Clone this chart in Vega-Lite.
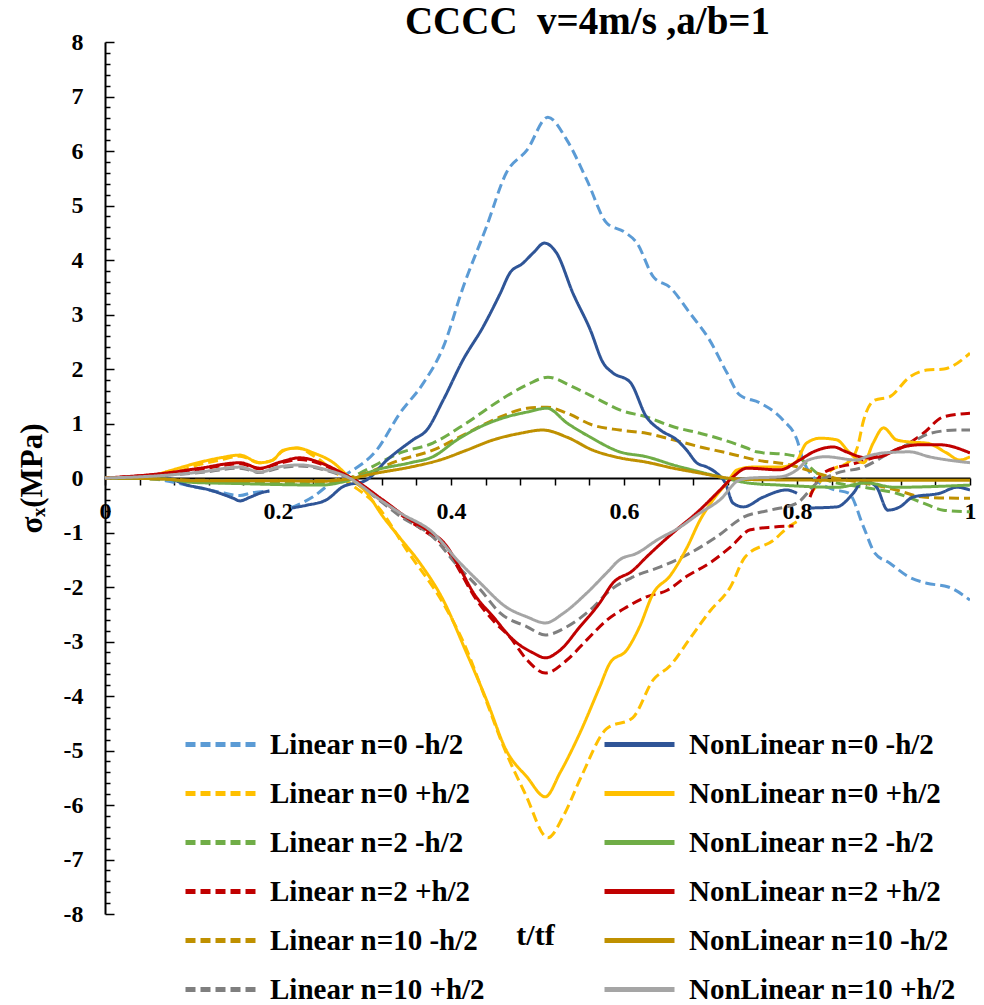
{
  "$schema": "https://vega.github.io/schema/vega-lite/v6.json",
  "width": 865,
  "height": 872,
  "autosize": "none",
  "padding": {"left": 105, "top": 42, "right": 14, "bottom": 91},
  "title": {
    "text": "CCCC\u00a0 v=4m/s ,a/b=1",
    "font": "Liberation Serif",
    "fontSize": 39,
    "fontWeight": "bold",
    "color": "black",
    "anchor": "middle",
    "dx": 50,
    "offset": -12
  },
  "config": {
    "view": {"stroke": null},
    "font": "Liberation Serif",
    "axis": {
      "grid": false,
      "domainColor": "black",
      "domainWidth": 2,
      "tickColor": "black",
      "tickWidth": 1.5,
      "labelFont": "Liberation Serif",
      "labelFontSize": 24,
      "labelFontWeight": "bold",
      "labelColor": "black",
      "titleFont": "Liberation Serif",
      "titleFontWeight": "bold",
      "titleColor": "black"
    }
  },
  "data": {
    "values": [
      {"s": "Linear n=0 -h/2", "p": 1, "t": 0, "v": 0},
      {"s": "Linear n=0 -h/2", "p": 1, "t": 0.04, "v": 0},
      {"s": "Linear n=0 -h/2", "p": 1, "t": 0.07, "v": -0.05},
      {"s": "Linear n=0 -h/2", "p": 1, "t": 0.1, "v": -0.15},
      {"s": "Linear n=0 -h/2", "p": 1, "t": 0.13, "v": -0.25},
      {"s": "Linear n=0 -h/2", "p": 1, "t": 0.156, "v": -0.32},
      {"s": "Linear n=0 -h/2", "p": 1, "t": 0.17, "v": -0.27},
      {"s": "Linear n=0 -h/2", "p": 1, "t": 0.19, "v": -0.24},
      {"s": "Linear n=0 -h/2", "p": 2, "t": 0.215, "v": -0.55},
      {"s": "Linear n=0 -h/2", "p": 2, "t": 0.24, "v": -0.35},
      {"s": "Linear n=0 -h/2", "p": 2, "t": 0.265, "v": -0.05},
      {"s": "Linear n=0 -h/2", "p": 2, "t": 0.283, "v": 0.11},
      {"s": "Linear n=0 -h/2", "p": 2, "t": 0.314, "v": 0.51},
      {"s": "Linear n=0 -h/2", "p": 2, "t": 0.341, "v": 1.19},
      {"s": "Linear n=0 -h/2", "p": 2, "t": 0.368, "v": 1.74},
      {"s": "Linear n=0 -h/2", "p": 2, "t": 0.391, "v": 2.4},
      {"s": "Linear n=0 -h/2", "p": 2, "t": 0.414, "v": 3.5},
      {"s": "Linear n=0 -h/2", "p": 2, "t": 0.441, "v": 4.61},
      {"s": "Linear n=0 -h/2", "p": 2, "t": 0.464, "v": 5.6},
      {"s": "Linear n=0 -h/2", "p": 2, "t": 0.488, "v": 6.02},
      {"s": "Linear n=0 -h/2", "p": 2, "t": 0.512, "v": 6.62},
      {"s": "Linear n=0 -h/2", "p": 2, "t": 0.534, "v": 6.2},
      {"s": "Linear n=0 -h/2", "p": 2, "t": 0.557, "v": 5.47},
      {"s": "Linear n=0 -h/2", "p": 2, "t": 0.58, "v": 4.68},
      {"s": "Linear n=0 -h/2", "p": 2, "t": 0.601, "v": 4.51},
      {"s": "Linear n=0 -h/2", "p": 2, "t": 0.615, "v": 4.31},
      {"s": "Linear n=0 -h/2", "p": 2, "t": 0.634, "v": 3.69},
      {"s": "Linear n=0 -h/2", "p": 2, "t": 0.653, "v": 3.5},
      {"s": "Linear n=0 -h/2", "p": 2, "t": 0.676, "v": 3.03},
      {"s": "Linear n=0 -h/2", "p": 2, "t": 0.699, "v": 2.53},
      {"s": "Linear n=0 -h/2", "p": 2, "t": 0.719, "v": 1.93},
      {"s": "Linear n=0 -h/2", "p": 2, "t": 0.734, "v": 1.52},
      {"s": "Linear n=0 -h/2", "p": 2, "t": 0.757, "v": 1.38},
      {"s": "Linear n=0 -h/2", "p": 2, "t": 0.784, "v": 1.06},
      {"s": "Linear n=0 -h/2", "p": 2, "t": 0.8, "v": 0.7},
      {"s": "Linear n=0 -h/2", "p": 2, "t": 0.807, "v": 0.33},
      {"s": "Linear n=0 -h/2", "p": 2, "t": 0.82, "v": 0.0},
      {"s": "Linear n=0 -h/2", "p": 2, "t": 0.84, "v": -0.2},
      {"s": "Linear n=0 -h/2", "p": 2, "t": 0.86, "v": -0.28},
      {"s": "Linear n=0 -h/2", "p": 2, "t": 0.877, "v": -0.9},
      {"s": "Linear n=0 -h/2", "p": 2, "t": 0.89, "v": -1.38},
      {"s": "Linear n=0 -h/2", "p": 2, "t": 0.907, "v": -1.56},
      {"s": "Linear n=0 -h/2", "p": 2, "t": 0.93, "v": -1.82},
      {"s": "Linear n=0 -h/2", "p": 2, "t": 0.95, "v": -1.93},
      {"s": "Linear n=0 -h/2", "p": 2, "t": 0.975, "v": -2.0},
      {"s": "Linear n=0 -h/2", "p": 2, "t": 1, "v": -2.24},

      {"s": "Linear n=0 +h/2", "p": 1, "t": 0, "v": 0},
      {"s": "Linear n=0 +h/2", "p": 1, "t": 0.05, "v": 0.02},
      {"s": "Linear n=0 +h/2", "p": 1, "t": 0.08, "v": 0.1},
      {"s": "Linear n=0 +h/2", "p": 1, "t": 0.11, "v": 0.25},
      {"s": "Linear n=0 +h/2", "p": 1, "t": 0.133, "v": 0.33},
      {"s": "Linear n=0 +h/2", "p": 1, "t": 0.156, "v": 0.4},
      {"s": "Linear n=0 +h/2", "p": 1, "t": 0.179, "v": 0.28},
      {"s": "Linear n=0 +h/2", "p": 1, "t": 0.194, "v": 0.33},
      {"s": "Linear n=0 +h/2", "p": 1, "t": 0.206, "v": 0.5},
      {"s": "Linear n=0 +h/2", "p": 1, "t": 0.222, "v": 0.55},
      {"s": "Linear n=0 +h/2", "p": 1, "t": 0.24, "v": 0.42},
      {"s": "Linear n=0 +h/2", "p": 1, "t": 0.265, "v": 0.12},
      {"s": "Linear n=0 +h/2", "p": 1, "t": 0.283, "v": -0.1},
      {"s": "Linear n=0 +h/2", "p": 1, "t": 0.314, "v": -0.5},
      {"s": "Linear n=0 +h/2", "p": 1, "t": 0.35, "v": -1.35},
      {"s": "Linear n=0 +h/2", "p": 1, "t": 0.391, "v": -2.3},
      {"s": "Linear n=0 +h/2", "p": 1, "t": 0.414, "v": -3.0},
      {"s": "Linear n=0 +h/2", "p": 1, "t": 0.441, "v": -4.1},
      {"s": "Linear n=0 +h/2", "p": 1, "t": 0.46, "v": -4.9},
      {"s": "Linear n=0 +h/2", "p": 1, "t": 0.486, "v": -5.8},
      {"s": "Linear n=0 +h/2", "p": 1, "t": 0.512, "v": -6.6},
      {"s": "Linear n=0 +h/2", "p": 1, "t": 0.53, "v": -6.2},
      {"s": "Linear n=0 +h/2", "p": 1, "t": 0.55, "v": -5.5},
      {"s": "Linear n=0 +h/2", "p": 1, "t": 0.58, "v": -4.6},
      {"s": "Linear n=0 +h/2", "p": 1, "t": 0.61, "v": -4.4},
      {"s": "Linear n=0 +h/2", "p": 1, "t": 0.634, "v": -3.7},
      {"s": "Linear n=0 +h/2", "p": 1, "t": 0.653, "v": -3.45},
      {"s": "Linear n=0 +h/2", "p": 1, "t": 0.676, "v": -2.95},
      {"s": "Linear n=0 +h/2", "p": 1, "t": 0.699, "v": -2.45},
      {"s": "Linear n=0 +h/2", "p": 1, "t": 0.723, "v": -2.0},
      {"s": "Linear n=0 +h/2", "p": 1, "t": 0.74, "v": -1.45},
      {"s": "Linear n=0 +h/2", "p": 1, "t": 0.773, "v": -1.14},
      {"s": "Linear n=0 +h/2", "p": 1, "t": 0.79, "v": -0.9},
      {"s": "Linear n=0 +h/2", "p": 1, "t": 0.8, "v": -0.8},
      {"s": "Linear n=0 +h/2", "p": 2, "t": 0.815, "v": -0.3},
      {"s": "Linear n=0 +h/2", "p": 2, "t": 0.84, "v": 0.15},
      {"s": "Linear n=0 +h/2", "p": 2, "t": 0.86, "v": 0.3},
      {"s": "Linear n=0 +h/2", "p": 2, "t": 0.87, "v": 0.57},
      {"s": "Linear n=0 +h/2", "p": 2, "t": 0.877, "v": 1.06},
      {"s": "Linear n=0 +h/2", "p": 2, "t": 0.89, "v": 1.43},
      {"s": "Linear n=0 +h/2", "p": 2, "t": 0.907, "v": 1.49},
      {"s": "Linear n=0 +h/2", "p": 2, "t": 0.93, "v": 1.85},
      {"s": "Linear n=0 +h/2", "p": 2, "t": 0.95, "v": 1.98},
      {"s": "Linear n=0 +h/2", "p": 2, "t": 0.97, "v": 2.0},
      {"s": "Linear n=0 +h/2", "p": 2, "t": 1, "v": 2.29},

      {"s": "Linear n=2 -h/2", "p": 1, "t": 0, "v": 0},
      {"s": "Linear n=2 -h/2", "p": 1, "t": 0.07, "v": -0.02},
      {"s": "Linear n=2 -h/2", "p": 1, "t": 0.1, "v": -0.07},
      {"s": "Linear n=2 -h/2", "p": 1, "t": 0.15, "v": -0.09},
      {"s": "Linear n=2 -h/2", "p": 1, "t": 0.2, "v": -0.1},
      {"s": "Linear n=2 -h/2", "p": 1, "t": 0.25, "v": -0.1},
      {"s": "Linear n=2 -h/2", "p": 1, "t": 0.28, "v": -0.02},
      {"s": "Linear n=2 -h/2", "p": 1, "t": 0.302, "v": 0.15},
      {"s": "Linear n=2 -h/2", "p": 1, "t": 0.341, "v": 0.46},
      {"s": "Linear n=2 -h/2", "p": 1, "t": 0.379, "v": 0.64},
      {"s": "Linear n=2 -h/2", "p": 1, "t": 0.418, "v": 1.01},
      {"s": "Linear n=2 -h/2", "p": 1, "t": 0.457, "v": 1.43},
      {"s": "Linear n=2 -h/2", "p": 1, "t": 0.488, "v": 1.71},
      {"s": "Linear n=2 -h/2", "p": 1, "t": 0.512, "v": 1.85},
      {"s": "Linear n=2 -h/2", "p": 1, "t": 0.541, "v": 1.67},
      {"s": "Linear n=2 -h/2", "p": 1, "t": 0.572, "v": 1.43},
      {"s": "Linear n=2 -h/2", "p": 1, "t": 0.595, "v": 1.25},
      {"s": "Linear n=2 -h/2", "p": 1, "t": 0.626, "v": 1.12},
      {"s": "Linear n=2 -h/2", "p": 1, "t": 0.657, "v": 0.94},
      {"s": "Linear n=2 -h/2", "p": 1, "t": 0.688, "v": 0.82},
      {"s": "Linear n=2 -h/2", "p": 1, "t": 0.715, "v": 0.7},
      {"s": "Linear n=2 -h/2", "p": 1, "t": 0.742, "v": 0.55},
      {"s": "Linear n=2 -h/2", "p": 1, "t": 0.753, "v": 0.48},
      {"s": "Linear n=2 -h/2", "p": 1, "t": 0.792, "v": 0.42},
      {"s": "Linear n=2 -h/2", "p": 1, "t": 0.8, "v": 0.39},
      {"s": "Linear n=2 -h/2", "p": 1, "t": 0.823, "v": 0.09},
      {"s": "Linear n=2 -h/2", "p": 1, "t": 0.835, "v": -0.04},
      {"s": "Linear n=2 -h/2", "p": 1, "t": 0.877, "v": -0.17},
      {"s": "Linear n=2 -h/2", "p": 1, "t": 0.915, "v": -0.28},
      {"s": "Linear n=2 -h/2", "p": 1, "t": 0.946, "v": -0.46},
      {"s": "Linear n=2 -h/2", "p": 1, "t": 0.969, "v": -0.59},
      {"s": "Linear n=2 -h/2", "p": 1, "t": 1, "v": -0.62},

      {"s": "Linear n=2 +h/2", "p": 1, "t": 0, "v": 0},
      {"s": "Linear n=2 +h/2", "p": 1, "t": 0.07, "v": 0.08},
      {"s": "Linear n=2 +h/2", "p": 1, "t": 0.11, "v": 0.16},
      {"s": "Linear n=2 +h/2", "p": 1, "t": 0.156, "v": 0.26},
      {"s": "Linear n=2 +h/2", "p": 1, "t": 0.179, "v": 0.17},
      {"s": "Linear n=2 +h/2", "p": 1, "t": 0.202, "v": 0.27},
      {"s": "Linear n=2 +h/2", "p": 1, "t": 0.225, "v": 0.34},
      {"s": "Linear n=2 +h/2", "p": 1, "t": 0.249, "v": 0.26},
      {"s": "Linear n=2 +h/2", "p": 1, "t": 0.272, "v": 0.1},
      {"s": "Linear n=2 +h/2", "p": 1, "t": 0.285, "v": 0.0},
      {"s": "Linear n=2 +h/2", "p": 1, "t": 0.321, "v": -0.42},
      {"s": "Linear n=2 +h/2", "p": 1, "t": 0.353, "v": -0.8},
      {"s": "Linear n=2 +h/2", "p": 1, "t": 0.372, "v": -1.0},
      {"s": "Linear n=2 +h/2", "p": 1, "t": 0.395, "v": -1.3},
      {"s": "Linear n=2 +h/2", "p": 1, "t": 0.41, "v": -1.7},
      {"s": "Linear n=2 +h/2", "p": 1, "t": 0.426, "v": -2.15},
      {"s": "Linear n=2 +h/2", "p": 1, "t": 0.449, "v": -2.62},
      {"s": "Linear n=2 +h/2", "p": 1, "t": 0.468, "v": -2.92},
      {"s": "Linear n=2 +h/2", "p": 1, "t": 0.488, "v": -3.34},
      {"s": "Linear n=2 +h/2", "p": 1, "t": 0.509, "v": -3.58},
      {"s": "Linear n=2 +h/2", "p": 1, "t": 0.534, "v": -3.34},
      {"s": "Linear n=2 +h/2", "p": 1, "t": 0.557, "v": -2.97},
      {"s": "Linear n=2 +h/2", "p": 1, "t": 0.58, "v": -2.61},
      {"s": "Linear n=2 +h/2", "p": 1, "t": 0.603, "v": -2.37},
      {"s": "Linear n=2 +h/2", "p": 1, "t": 0.626, "v": -2.18},
      {"s": "Linear n=2 +h/2", "p": 1, "t": 0.65, "v": -2.06},
      {"s": "Linear n=2 +h/2", "p": 1, "t": 0.673, "v": -1.8},
      {"s": "Linear n=2 +h/2", "p": 1, "t": 0.699, "v": -1.56},
      {"s": "Linear n=2 +h/2", "p": 1, "t": 0.723, "v": -1.27},
      {"s": "Linear n=2 +h/2", "p": 1, "t": 0.746, "v": -0.95},
      {"s": "Linear n=2 +h/2", "p": 1, "t": 0.772, "v": -0.9},
      {"s": "Linear n=2 +h/2", "p": 1, "t": 0.796, "v": -0.88},
      {"s": "Linear n=2 +h/2", "p": 2, "t": 0.815, "v": -0.35},
      {"s": "Linear n=2 +h/2", "p": 2, "t": 0.83, "v": 0.09},
      {"s": "Linear n=2 +h/2", "p": 2, "t": 0.869, "v": 0.28},
      {"s": "Linear n=2 +h/2", "p": 2, "t": 0.892, "v": 0.39},
      {"s": "Linear n=2 +h/2", "p": 2, "t": 0.915, "v": 0.51},
      {"s": "Linear n=2 +h/2", "p": 2, "t": 0.946, "v": 0.82},
      {"s": "Linear n=2 +h/2", "p": 2, "t": 0.969, "v": 1.12},
      {"s": "Linear n=2 +h/2", "p": 2, "t": 1, "v": 1.19},

      {"s": "Linear n=10 -h/2", "p": 1, "t": 0, "v": 0},
      {"s": "Linear n=10 -h/2", "p": 1, "t": 0.07, "v": -0.02},
      {"s": "Linear n=10 -h/2", "p": 1, "t": 0.1, "v": -0.04},
      {"s": "Linear n=10 -h/2", "p": 1, "t": 0.2, "v": -0.05},
      {"s": "Linear n=10 -h/2", "p": 1, "t": 0.25, "v": -0.05},
      {"s": "Linear n=10 -h/2", "p": 1, "t": 0.28, "v": -0.01},
      {"s": "Linear n=10 -h/2", "p": 1, "t": 0.302, "v": 0.09},
      {"s": "Linear n=10 -h/2", "p": 1, "t": 0.341, "v": 0.33},
      {"s": "Linear n=10 -h/2", "p": 1, "t": 0.379, "v": 0.51},
      {"s": "Linear n=10 -h/2", "p": 1, "t": 0.418, "v": 0.82},
      {"s": "Linear n=10 -h/2", "p": 1, "t": 0.457, "v": 1.12},
      {"s": "Linear n=10 -h/2", "p": 1, "t": 0.488, "v": 1.28},
      {"s": "Linear n=10 -h/2", "p": 1, "t": 0.511, "v": 1.3},
      {"s": "Linear n=10 -h/2", "p": 1, "t": 0.534, "v": 1.19},
      {"s": "Linear n=10 -h/2", "p": 1, "t": 0.564, "v": 0.97},
      {"s": "Linear n=10 -h/2", "p": 1, "t": 0.595, "v": 0.88},
      {"s": "Linear n=10 -h/2", "p": 1, "t": 0.626, "v": 0.82},
      {"s": "Linear n=10 -h/2", "p": 1, "t": 0.657, "v": 0.7},
      {"s": "Linear n=10 -h/2", "p": 1, "t": 0.688, "v": 0.57},
      {"s": "Linear n=10 -h/2", "p": 1, "t": 0.719, "v": 0.46},
      {"s": "Linear n=10 -h/2", "p": 1, "t": 0.753, "v": 0.33},
      {"s": "Linear n=10 -h/2", "p": 1, "t": 0.792, "v": 0.24},
      {"s": "Linear n=10 -h/2", "p": 1, "t": 0.823, "v": 0.09},
      {"s": "Linear n=10 -h/2", "p": 1, "t": 0.843, "v": 0.0},
      {"s": "Linear n=10 -h/2", "p": 1, "t": 0.87, "v": -0.07},
      {"s": "Linear n=10 -h/2", "p": 1, "t": 0.915, "v": -0.22},
      {"s": "Linear n=10 -h/2", "p": 1, "t": 0.946, "v": -0.35},
      {"s": "Linear n=10 -h/2", "p": 1, "t": 0.985, "v": -0.37},
      {"s": "Linear n=10 -h/2", "p": 1, "t": 1, "v": -0.37},

      {"s": "Linear n=10 +h/2", "p": 1, "t": 0, "v": 0},
      {"s": "Linear n=10 +h/2", "p": 1, "t": 0.07, "v": 0.05},
      {"s": "Linear n=10 +h/2", "p": 1, "t": 0.11, "v": 0.1},
      {"s": "Linear n=10 +h/2", "p": 1, "t": 0.156, "v": 0.18},
      {"s": "Linear n=10 +h/2", "p": 1, "t": 0.179, "v": 0.1},
      {"s": "Linear n=10 +h/2", "p": 1, "t": 0.2, "v": 0.18},
      {"s": "Linear n=10 +h/2", "p": 1, "t": 0.225, "v": 0.22},
      {"s": "Linear n=10 +h/2", "p": 1, "t": 0.256, "v": 0.14},
      {"s": "Linear n=10 +h/2", "p": 1, "t": 0.28, "v": 0.0},
      {"s": "Linear n=10 +h/2", "p": 1, "t": 0.318, "v": -0.42},
      {"s": "Linear n=10 +h/2", "p": 1, "t": 0.341, "v": -0.7},
      {"s": "Linear n=10 +h/2", "p": 1, "t": 0.379, "v": -1.08},
      {"s": "Linear n=10 +h/2", "p": 1, "t": 0.407, "v": -1.6},
      {"s": "Linear n=10 +h/2", "p": 1, "t": 0.434, "v": -2.05},
      {"s": "Linear n=10 +h/2", "p": 1, "t": 0.457, "v": -2.48},
      {"s": "Linear n=10 +h/2", "p": 1, "t": 0.488, "v": -2.73},
      {"s": "Linear n=10 +h/2", "p": 1, "t": 0.509, "v": -2.88},
      {"s": "Linear n=10 +h/2", "p": 1, "t": 0.534, "v": -2.73},
      {"s": "Linear n=10 +h/2", "p": 1, "t": 0.561, "v": -2.42},
      {"s": "Linear n=10 +h/2", "p": 1, "t": 0.584, "v": -2.06},
      {"s": "Linear n=10 +h/2", "p": 1, "t": 0.61, "v": -1.82},
      {"s": "Linear n=10 +h/2", "p": 1, "t": 0.642, "v": -1.63},
      {"s": "Linear n=10 +h/2", "p": 1, "t": 0.661, "v": -1.5},
      {"s": "Linear n=10 +h/2", "p": 1, "t": 0.676, "v": -1.38},
      {"s": "Linear n=10 +h/2", "p": 1, "t": 0.707, "v": -1.08},
      {"s": "Linear n=10 +h/2", "p": 1, "t": 0.738, "v": -0.72},
      {"s": "Linear n=10 +h/2", "p": 1, "t": 0.769, "v": -0.59},
      {"s": "Linear n=10 +h/2", "p": 1, "t": 0.8, "v": -0.46},
      {"s": "Linear n=10 +h/2", "p": 1, "t": 0.823, "v": -0.09},
      {"s": "Linear n=10 +h/2", "p": 1, "t": 0.846, "v": 0.09},
      {"s": "Linear n=10 +h/2", "p": 1, "t": 0.877, "v": 0.2},
      {"s": "Linear n=10 +h/2", "p": 1, "t": 0.907, "v": 0.46},
      {"s": "Linear n=10 +h/2", "p": 1, "t": 0.931, "v": 0.64},
      {"s": "Linear n=10 +h/2", "p": 1, "t": 0.954, "v": 0.82},
      {"s": "Linear n=10 +h/2", "p": 1, "t": 0.985, "v": 0.88},
      {"s": "Linear n=10 +h/2", "p": 1, "t": 1, "v": 0.88},

      {"s": "NonLinear n=0 -h/2", "p": 1, "t": 0, "v": 0},
      {"s": "NonLinear n=0 -h/2", "p": 1, "t": 0.05, "v": 0},
      {"s": "NonLinear n=0 -h/2", "p": 1, "t": 0.07, "v": 0},
      {"s": "NonLinear n=0 -h/2", "p": 1, "t": 0.095, "v": -0.13},
      {"s": "NonLinear n=0 -h/2", "p": 1, "t": 0.121, "v": -0.22},
      {"s": "NonLinear n=0 -h/2", "p": 1, "t": 0.148, "v": -0.37},
      {"s": "NonLinear n=0 -h/2", "p": 1, "t": 0.156, "v": -0.42},
      {"s": "NonLinear n=0 -h/2", "p": 1, "t": 0.168, "v": -0.35},
      {"s": "NonLinear n=0 -h/2", "p": 1, "t": 0.183, "v": -0.26},
      {"s": "NonLinear n=0 -h/2", "p": 1, "t": 0.19, "v": -0.24},
      {"s": "NonLinear n=0 -h/2", "p": 2, "t": 0.216, "v": -0.55},
      {"s": "NonLinear n=0 -h/2", "p": 2, "t": 0.233, "v": -0.5},
      {"s": "NonLinear n=0 -h/2", "p": 2, "t": 0.256, "v": -0.4},
      {"s": "NonLinear n=0 -h/2", "p": 2, "t": 0.275, "v": -0.16},
      {"s": "NonLinear n=0 -h/2", "p": 2, "t": 0.302, "v": -0.04},
      {"s": "NonLinear n=0 -h/2", "p": 2, "t": 0.326, "v": 0.33},
      {"s": "NonLinear n=0 -h/2", "p": 2, "t": 0.356, "v": 0.7},
      {"s": "NonLinear n=0 -h/2", "p": 2, "t": 0.372, "v": 0.88},
      {"s": "NonLinear n=0 -h/2", "p": 2, "t": 0.391, "v": 1.43},
      {"s": "NonLinear n=0 -h/2", "p": 2, "t": 0.414, "v": 2.17},
      {"s": "NonLinear n=0 -h/2", "p": 2, "t": 0.437, "v": 2.77},
      {"s": "NonLinear n=0 -h/2", "p": 2, "t": 0.457, "v": 3.39},
      {"s": "NonLinear n=0 -h/2", "p": 2, "t": 0.468, "v": 3.76},
      {"s": "NonLinear n=0 -h/2", "p": 2, "t": 0.483, "v": 3.94},
      {"s": "NonLinear n=0 -h/2", "p": 2, "t": 0.495, "v": 4.13},
      {"s": "NonLinear n=0 -h/2", "p": 2, "t": 0.508, "v": 4.31},
      {"s": "NonLinear n=0 -h/2", "p": 2, "t": 0.522, "v": 4.13},
      {"s": "NonLinear n=0 -h/2", "p": 2, "t": 0.541, "v": 3.39},
      {"s": "NonLinear n=0 -h/2", "p": 2, "t": 0.561, "v": 2.72},
      {"s": "NonLinear n=0 -h/2", "p": 2, "t": 0.576, "v": 2.11},
      {"s": "NonLinear n=0 -h/2", "p": 2, "t": 0.587, "v": 1.93},
      {"s": "NonLinear n=0 -h/2", "p": 2, "t": 0.607, "v": 1.76},
      {"s": "NonLinear n=0 -h/2", "p": 2, "t": 0.626, "v": 1.12},
      {"s": "NonLinear n=0 -h/2", "p": 2, "t": 0.642, "v": 0.88},
      {"s": "NonLinear n=0 -h/2", "p": 2, "t": 0.661, "v": 0.7},
      {"s": "NonLinear n=0 -h/2", "p": 2, "t": 0.673, "v": 0.5},
      {"s": "NonLinear n=0 -h/2", "p": 2, "t": 0.684, "v": 0.28},
      {"s": "NonLinear n=0 -h/2", "p": 2, "t": 0.696, "v": 0.2},
      {"s": "NonLinear n=0 -h/2", "p": 2, "t": 0.707, "v": 0.09},
      {"s": "NonLinear n=0 -h/2", "p": 2, "t": 0.717, "v": -0.09},
      {"s": "NonLinear n=0 -h/2", "p": 2, "t": 0.726, "v": -0.46},
      {"s": "NonLinear n=0 -h/2", "p": 2, "t": 0.738, "v": -0.53},
      {"s": "NonLinear n=0 -h/2", "p": 2, "t": 0.761, "v": -0.35},
      {"s": "NonLinear n=0 -h/2", "p": 2, "t": 0.788, "v": -0.22},
      {"s": "NonLinear n=0 -h/2", "p": 2, "t": 0.8, "v": -0.28},
      {"s": "NonLinear n=0 -h/2", "p": 3, "t": 0.815, "v": -0.55},
      {"s": "NonLinear n=0 -h/2", "p": 3, "t": 0.846, "v": -0.53},
      {"s": "NonLinear n=0 -h/2", "p": 3, "t": 0.865, "v": -0.28},
      {"s": "NonLinear n=0 -h/2", "p": 3, "t": 0.877, "v": -0.04},
      {"s": "NonLinear n=0 -h/2", "p": 3, "t": 0.892, "v": -0.17},
      {"s": "NonLinear n=0 -h/2", "p": 3, "t": 0.905, "v": -0.59},
      {"s": "NonLinear n=0 -h/2", "p": 3, "t": 0.919, "v": -0.53},
      {"s": "NonLinear n=0 -h/2", "p": 3, "t": 0.934, "v": -0.35},
      {"s": "NonLinear n=0 -h/2", "p": 3, "t": 0.965, "v": -0.28},
      {"s": "NonLinear n=0 -h/2", "p": 3, "t": 0.985, "v": -0.17},
      {"s": "NonLinear n=0 -h/2", "p": 3, "t": 1, "v": -0.22},

      {"s": "NonLinear n=0 +h/2", "p": 1, "t": 0, "v": 0},
      {"s": "NonLinear n=0 +h/2", "p": 1, "t": 0.05, "v": 0.02},
      {"s": "NonLinear n=0 +h/2", "p": 1, "t": 0.07, "v": 0.11},
      {"s": "NonLinear n=0 +h/2", "p": 1, "t": 0.11, "v": 0.29},
      {"s": "NonLinear n=0 +h/2", "p": 1, "t": 0.133, "v": 0.37},
      {"s": "NonLinear n=0 +h/2", "p": 1, "t": 0.156, "v": 0.42},
      {"s": "NonLinear n=0 +h/2", "p": 1, "t": 0.179, "v": 0.28},
      {"s": "NonLinear n=0 +h/2", "p": 1, "t": 0.194, "v": 0.33},
      {"s": "NonLinear n=0 +h/2", "p": 1, "t": 0.206, "v": 0.51},
      {"s": "NonLinear n=0 +h/2", "p": 1, "t": 0.222, "v": 0.55},
      {"s": "NonLinear n=0 +h/2", "p": 1, "t": 0.241, "v": 0.46},
      {"s": "NonLinear n=0 +h/2", "p": 1, "t": 0.264, "v": 0.28},
      {"s": "NonLinear n=0 +h/2", "p": 1, "t": 0.28, "v": 0.05},
      {"s": "NonLinear n=0 +h/2", "p": 1, "t": 0.303, "v": -0.28},
      {"s": "NonLinear n=0 +h/2", "p": 1, "t": 0.321, "v": -0.7},
      {"s": "NonLinear n=0 +h/2", "p": 1, "t": 0.341, "v": -1.1},
      {"s": "NonLinear n=0 +h/2", "p": 1, "t": 0.364, "v": -1.56},
      {"s": "NonLinear n=0 +h/2", "p": 1, "t": 0.391, "v": -2.24},
      {"s": "NonLinear n=0 +h/2", "p": 1, "t": 0.418, "v": -3.21},
      {"s": "NonLinear n=0 +h/2", "p": 1, "t": 0.441, "v": -4.07},
      {"s": "NonLinear n=0 +h/2", "p": 1, "t": 0.464, "v": -5.0},
      {"s": "NonLinear n=0 +h/2", "p": 1, "t": 0.488, "v": -5.49},
      {"s": "NonLinear n=0 +h/2", "p": 1, "t": 0.509, "v": -5.85},
      {"s": "NonLinear n=0 +h/2", "p": 1, "t": 0.526, "v": -5.41},
      {"s": "NonLinear n=0 +h/2", "p": 1, "t": 0.549, "v": -4.68},
      {"s": "NonLinear n=0 +h/2", "p": 1, "t": 0.572, "v": -3.83},
      {"s": "NonLinear n=0 +h/2", "p": 1, "t": 0.584, "v": -3.39},
      {"s": "NonLinear n=0 +h/2", "p": 1, "t": 0.603, "v": -3.16},
      {"s": "NonLinear n=0 +h/2", "p": 1, "t": 0.618, "v": -2.73},
      {"s": "NonLinear n=0 +h/2", "p": 1, "t": 0.634, "v": -2.11},
      {"s": "NonLinear n=0 +h/2", "p": 1, "t": 0.653, "v": -1.8},
      {"s": "NonLinear n=0 +h/2", "p": 1, "t": 0.673, "v": -1.27},
      {"s": "NonLinear n=0 +h/2", "p": 1, "t": 0.688, "v": -0.77},
      {"s": "NonLinear n=0 +h/2", "p": 1, "t": 0.703, "v": -0.4},
      {"s": "NonLinear n=0 +h/2", "p": 1, "t": 0.719, "v": -0.09},
      {"s": "NonLinear n=0 +h/2", "p": 1, "t": 0.731, "v": 0.15},
      {"s": "NonLinear n=0 +h/2", "p": 1, "t": 0.749, "v": 0.2},
      {"s": "NonLinear n=0 +h/2", "p": 1, "t": 0.78, "v": 0.2},
      {"s": "NonLinear n=0 +h/2", "p": 1, "t": 0.798, "v": 0.28},
      {"s": "NonLinear n=0 +h/2", "p": 1, "t": 0.811, "v": 0.64},
      {"s": "NonLinear n=0 +h/2", "p": 1, "t": 0.827, "v": 0.73},
      {"s": "NonLinear n=0 +h/2", "p": 1, "t": 0.846, "v": 0.7},
      {"s": "NonLinear n=0 +h/2", "p": 1, "t": 0.861, "v": 0.46},
      {"s": "NonLinear n=0 +h/2", "p": 1, "t": 0.877, "v": 0.28},
      {"s": "NonLinear n=0 +h/2", "p": 1, "t": 0.888, "v": 0.64},
      {"s": "NonLinear n=0 +h/2", "p": 1, "t": 0.9, "v": 0.92},
      {"s": "NonLinear n=0 +h/2", "p": 1, "t": 0.915, "v": 0.7},
      {"s": "NonLinear n=0 +h/2", "p": 1, "t": 0.931, "v": 0.66},
      {"s": "NonLinear n=0 +h/2", "p": 1, "t": 0.95, "v": 0.64},
      {"s": "NonLinear n=0 +h/2", "p": 1, "t": 0.973, "v": 0.46},
      {"s": "NonLinear n=0 +h/2", "p": 1, "t": 0.988, "v": 0.33},
      {"s": "NonLinear n=0 +h/2", "p": 1, "t": 1, "v": 0.39},

      {"s": "NonLinear n=2 -h/2", "p": 1, "t": 0, "v": 0},
      {"s": "NonLinear n=2 -h/2", "p": 1, "t": 0.07, "v": -0.02},
      {"s": "NonLinear n=2 -h/2", "p": 1, "t": 0.1, "v": -0.08},
      {"s": "NonLinear n=2 -h/2", "p": 1, "t": 0.15, "v": -0.1},
      {"s": "NonLinear n=2 -h/2", "p": 1, "t": 0.2, "v": -0.12},
      {"s": "NonLinear n=2 -h/2", "p": 1, "t": 0.25, "v": -0.13},
      {"s": "NonLinear n=2 -h/2", "p": 1, "t": 0.28, "v": -0.05},
      {"s": "NonLinear n=2 -h/2", "p": 1, "t": 0.314, "v": 0.15},
      {"s": "NonLinear n=2 -h/2", "p": 1, "t": 0.353, "v": 0.28},
      {"s": "NonLinear n=2 -h/2", "p": 1, "t": 0.379, "v": 0.39},
      {"s": "NonLinear n=2 -h/2", "p": 1, "t": 0.407, "v": 0.7},
      {"s": "NonLinear n=2 -h/2", "p": 1, "t": 0.434, "v": 0.94},
      {"s": "NonLinear n=2 -h/2", "p": 1, "t": 0.464, "v": 1.12},
      {"s": "NonLinear n=2 -h/2", "p": 1, "t": 0.488, "v": 1.21},
      {"s": "NonLinear n=2 -h/2", "p": 1, "t": 0.511, "v": 1.28},
      {"s": "NonLinear n=2 -h/2", "p": 1, "t": 0.534, "v": 1.01},
      {"s": "NonLinear n=2 -h/2", "p": 1, "t": 0.561, "v": 0.75},
      {"s": "NonLinear n=2 -h/2", "p": 1, "t": 0.595, "v": 0.48},
      {"s": "NonLinear n=2 -h/2", "p": 1, "t": 0.626, "v": 0.39},
      {"s": "NonLinear n=2 -h/2", "p": 1, "t": 0.657, "v": 0.24},
      {"s": "NonLinear n=2 -h/2", "p": 1, "t": 0.688, "v": 0.11},
      {"s": "NonLinear n=2 -h/2", "p": 1, "t": 0.711, "v": 0.02},
      {"s": "NonLinear n=2 -h/2", "p": 1, "t": 0.743, "v": -0.09},
      {"s": "NonLinear n=2 -h/2", "p": 1, "t": 0.78, "v": -0.13},
      {"s": "NonLinear n=2 -h/2", "p": 1, "t": 0.847, "v": -0.17},
      {"s": "NonLinear n=2 -h/2", "p": 1, "t": 0.88, "v": -0.09},
      {"s": "NonLinear n=2 -h/2", "p": 1, "t": 0.913, "v": -0.17},
      {"s": "NonLinear n=2 -h/2", "p": 1, "t": 1, "v": -0.13},

      {"s": "NonLinear n=2 +h/2", "p": 1, "t": 0, "v": 0},
      {"s": "NonLinear n=2 +h/2", "p": 1, "t": 0.07, "v": 0.09},
      {"s": "NonLinear n=2 +h/2", "p": 1, "t": 0.11, "v": 0.18},
      {"s": "NonLinear n=2 +h/2", "p": 1, "t": 0.156, "v": 0.28},
      {"s": "NonLinear n=2 +h/2", "p": 1, "t": 0.179, "v": 0.18},
      {"s": "NonLinear n=2 +h/2", "p": 1, "t": 0.202, "v": 0.29},
      {"s": "NonLinear n=2 +h/2", "p": 1, "t": 0.225, "v": 0.37},
      {"s": "NonLinear n=2 +h/2", "p": 1, "t": 0.249, "v": 0.28},
      {"s": "NonLinear n=2 +h/2", "p": 1, "t": 0.272, "v": 0.11},
      {"s": "NonLinear n=2 +h/2", "p": 1, "t": 0.285, "v": 0.0},
      {"s": "NonLinear n=2 +h/2", "p": 1, "t": 0.321, "v": -0.4},
      {"s": "NonLinear n=2 +h/2", "p": 1, "t": 0.353, "v": -0.77},
      {"s": "NonLinear n=2 +h/2", "p": 1, "t": 0.372, "v": -0.95},
      {"s": "NonLinear n=2 +h/2", "p": 1, "t": 0.395, "v": -1.25},
      {"s": "NonLinear n=2 +h/2", "p": 1, "t": 0.41, "v": -1.65},
      {"s": "NonLinear n=2 +h/2", "p": 1, "t": 0.426, "v": -2.11},
      {"s": "NonLinear n=2 +h/2", "p": 1, "t": 0.449, "v": -2.55},
      {"s": "NonLinear n=2 +h/2", "p": 1, "t": 0.472, "v": -2.97},
      {"s": "NonLinear n=2 +h/2", "p": 1, "t": 0.495, "v": -3.21},
      {"s": "NonLinear n=2 +h/2", "p": 1, "t": 0.509, "v": -3.3},
      {"s": "NonLinear n=2 +h/2", "p": 1, "t": 0.526, "v": -3.16},
      {"s": "NonLinear n=2 +h/2", "p": 1, "t": 0.549, "v": -2.73},
      {"s": "NonLinear n=2 +h/2", "p": 1, "t": 0.572, "v": -2.29},
      {"s": "NonLinear n=2 +h/2", "p": 1, "t": 0.587, "v": -1.93},
      {"s": "NonLinear n=2 +h/2", "p": 1, "t": 0.61, "v": -1.7},
      {"s": "NonLinear n=2 +h/2", "p": 1, "t": 0.626, "v": -1.45},
      {"s": "NonLinear n=2 +h/2", "p": 1, "t": 0.657, "v": -1.0},
      {"s": "NonLinear n=2 +h/2", "p": 1, "t": 0.684, "v": -0.64},
      {"s": "NonLinear n=2 +h/2", "p": 1, "t": 0.711, "v": -0.22},
      {"s": "NonLinear n=2 +h/2", "p": 1, "t": 0.726, "v": 0.02},
      {"s": "NonLinear n=2 +h/2", "p": 1, "t": 0.742, "v": 0.18},
      {"s": "NonLinear n=2 +h/2", "p": 1, "t": 0.78, "v": 0.15},
      {"s": "NonLinear n=2 +h/2", "p": 1, "t": 0.803, "v": 0.33},
      {"s": "NonLinear n=2 +h/2", "p": 1, "t": 0.819, "v": 0.48},
      {"s": "NonLinear n=2 +h/2", "p": 1, "t": 0.842, "v": 0.57},
      {"s": "NonLinear n=2 +h/2", "p": 1, "t": 0.857, "v": 0.48},
      {"s": "NonLinear n=2 +h/2", "p": 1, "t": 0.88, "v": 0.37},
      {"s": "NonLinear n=2 +h/2", "p": 1, "t": 0.896, "v": 0.39},
      {"s": "NonLinear n=2 +h/2", "p": 1, "t": 0.919, "v": 0.55},
      {"s": "NonLinear n=2 +h/2", "p": 1, "t": 0.942, "v": 0.61},
      {"s": "NonLinear n=2 +h/2", "p": 1, "t": 0.965, "v": 0.61},
      {"s": "NonLinear n=2 +h/2", "p": 1, "t": 1, "v": 0.46},

      {"s": "NonLinear n=10 -h/2", "p": 1, "t": 0, "v": 0},
      {"s": "NonLinear n=10 -h/2", "p": 1, "t": 0.07, "v": -0.02},
      {"s": "NonLinear n=10 -h/2", "p": 1, "t": 0.1, "v": -0.05},
      {"s": "NonLinear n=10 -h/2", "p": 1, "t": 0.2, "v": -0.05},
      {"s": "NonLinear n=10 -h/2", "p": 1, "t": 0.25, "v": -0.06},
      {"s": "NonLinear n=10 -h/2", "p": 1, "t": 0.28, "v": -0.02},
      {"s": "NonLinear n=10 -h/2", "p": 1, "t": 0.314, "v": 0.09},
      {"s": "NonLinear n=10 -h/2", "p": 1, "t": 0.353, "v": 0.2},
      {"s": "NonLinear n=10 -h/2", "p": 1, "t": 0.387, "v": 0.33},
      {"s": "NonLinear n=10 -h/2", "p": 1, "t": 0.418, "v": 0.51},
      {"s": "NonLinear n=10 -h/2", "p": 1, "t": 0.449, "v": 0.7},
      {"s": "NonLinear n=10 -h/2", "p": 1, "t": 0.48, "v": 0.82},
      {"s": "NonLinear n=10 -h/2", "p": 1, "t": 0.506, "v": 0.88},
      {"s": "NonLinear n=10 -h/2", "p": 1, "t": 0.534, "v": 0.75},
      {"s": "NonLinear n=10 -h/2", "p": 1, "t": 0.564, "v": 0.51},
      {"s": "NonLinear n=10 -h/2", "p": 1, "t": 0.595, "v": 0.37},
      {"s": "NonLinear n=10 -h/2", "p": 1, "t": 0.626, "v": 0.29},
      {"s": "NonLinear n=10 -h/2", "p": 1, "t": 0.657, "v": 0.18},
      {"s": "NonLinear n=10 -h/2", "p": 1, "t": 0.688, "v": 0.09},
      {"s": "NonLinear n=10 -h/2", "p": 1, "t": 0.72, "v": 0.0},
      {"s": "NonLinear n=10 -h/2", "p": 1, "t": 0.75, "v": -0.03},
      {"s": "NonLinear n=10 -h/2", "p": 1, "t": 0.85, "v": -0.04},
      {"s": "NonLinear n=10 -h/2", "p": 1, "t": 0.95, "v": -0.04},
      {"s": "NonLinear n=10 -h/2", "p": 1, "t": 1, "v": -0.04},

      {"s": "NonLinear n=10 +h/2", "p": 1, "t": 0, "v": 0},
      {"s": "NonLinear n=10 +h/2", "p": 1, "t": 0.07, "v": 0.05},
      {"s": "NonLinear n=10 +h/2", "p": 1, "t": 0.11, "v": 0.11},
      {"s": "NonLinear n=10 +h/2", "p": 1, "t": 0.156, "v": 0.2},
      {"s": "NonLinear n=10 +h/2", "p": 1, "t": 0.179, "v": 0.11},
      {"s": "NonLinear n=10 +h/2", "p": 1, "t": 0.2, "v": 0.2},
      {"s": "NonLinear n=10 +h/2", "p": 1, "t": 0.225, "v": 0.24},
      {"s": "NonLinear n=10 +h/2", "p": 1, "t": 0.256, "v": 0.15},
      {"s": "NonLinear n=10 +h/2", "p": 1, "t": 0.28, "v": 0.02},
      {"s": "NonLinear n=10 +h/2", "p": 1, "t": 0.318, "v": -0.4},
      {"s": "NonLinear n=10 +h/2", "p": 1, "t": 0.341, "v": -0.64},
      {"s": "NonLinear n=10 +h/2", "p": 1, "t": 0.379, "v": -1.0},
      {"s": "NonLinear n=10 +h/2", "p": 1, "t": 0.407, "v": -1.5},
      {"s": "NonLinear n=10 +h/2", "p": 1, "t": 0.434, "v": -1.93},
      {"s": "NonLinear n=10 +h/2", "p": 1, "t": 0.464, "v": -2.37},
      {"s": "NonLinear n=10 +h/2", "p": 1, "t": 0.488, "v": -2.55},
      {"s": "NonLinear n=10 +h/2", "p": 1, "t": 0.509, "v": -2.66},
      {"s": "NonLinear n=10 +h/2", "p": 1, "t": 0.53, "v": -2.48},
      {"s": "NonLinear n=10 +h/2", "p": 1, "t": 0.557, "v": -2.11},
      {"s": "NonLinear n=10 +h/2", "p": 1, "t": 0.58, "v": -1.74},
      {"s": "NonLinear n=10 +h/2", "p": 1, "t": 0.595, "v": -1.5},
      {"s": "NonLinear n=10 +h/2", "p": 1, "t": 0.615, "v": -1.38},
      {"s": "NonLinear n=10 +h/2", "p": 1, "t": 0.638, "v": -1.14},
      {"s": "NonLinear n=10 +h/2", "p": 1, "t": 0.665, "v": -0.9},
      {"s": "NonLinear n=10 +h/2", "p": 1, "t": 0.688, "v": -0.64},
      {"s": "NonLinear n=10 +h/2", "p": 1, "t": 0.711, "v": -0.4},
      {"s": "NonLinear n=10 +h/2", "p": 1, "t": 0.733, "v": -0.04},
      {"s": "NonLinear n=10 +h/2", "p": 1, "t": 0.747, "v": 0.0},
      {"s": "NonLinear n=10 +h/2", "p": 1, "t": 0.78, "v": 0.02},
      {"s": "NonLinear n=10 +h/2", "p": 1, "t": 0.8, "v": 0.15},
      {"s": "NonLinear n=10 +h/2", "p": 1, "t": 0.813, "v": 0.33},
      {"s": "NonLinear n=10 +h/2", "p": 1, "t": 0.833, "v": 0.39},
      {"s": "NonLinear n=10 +h/2", "p": 1, "t": 0.869, "v": 0.33},
      {"s": "NonLinear n=10 +h/2", "p": 1, "t": 0.88, "v": 0.39},
      {"s": "NonLinear n=10 +h/2", "p": 1, "t": 0.9, "v": 0.46},
      {"s": "NonLinear n=10 +h/2", "p": 1, "t": 0.93, "v": 0.48},
      {"s": "NonLinear n=10 +h/2", "p": 1, "t": 0.953, "v": 0.39},
      {"s": "NonLinear n=10 +h/2", "p": 1, "t": 1, "v": 0.28}
    ]
  },
  "mark": {"type": "line", "strokeWidth": 3, "interpolate": "monotone", "clip": true},
  "encoding": {
    "x": {
      "field": "t",
      "type": "quantitative",
      "scale": {"domain": [0, 1], "nice": false, "zero": false},
      "axis": {
        "offset": -436,
        "values": [0, 0.04, 0.08, 0.12, 0.16, 0.2, 0.24, 0.28, 0.32, 0.36, 0.4, 0.44, 0.48, 0.52, 0.56, 0.6, 0.64, 0.68, 0.72, 0.76, 0.8, 0.84, 0.88, 0.92, 0.96, 1],
        "labelExpr": "abs(datum.value * 5 - round(datum.value * 5)) < 1e-6 ? '' + round(datum.value * 5) / 5 : ''",
        "labelOverlap": false,
        "labelFlush": false,
        "tickSize": 7,
        "labelPadding": 14,
        "title": "t/tf",
        "titleFontSize": 30,
        "titleX": 430,
        "titleY": 457,
        "titleAnchor": null,
        "titleAlign": "center",
        "titleBaseline": "middle"
      }
    },
    "y": {
      "field": "v",
      "type": "quantitative",
      "scale": {"domain": [-8, 8], "nice": false},
      "axis": {
        "values": [-8, -7.8, -7.6, -7.4, -7.2, -7, -6.8, -6.6, -6.4, -6.2, -6, -5.8, -5.6, -5.4, -5.2, -5, -4.8, -4.6, -4.4, -4.2, -4, -3.8, -3.6, -3.4, -3.2, -3, -2.8, -2.6, -2.4, -2.2, -2, -1.8, -1.6, -1.4, -1.2, -1, -0.8, -0.6, -0.4, -0.2, 0, 0.2, 0.4, 0.6, 0.8, 1, 1.2, 1.4, 1.6, 1.8, 2, 2.2, 2.4, 2.6, 2.8, 3, 3.2, 3.4, 3.6, 3.8, 4, 4.2, 4.4, 4.6, 4.8, 5, 5.2, 5.4, 5.6, 5.8, 6, 6.2, 6.4, 6.6, 6.8, 7, 7.2, 7.4, 7.6, 7.8, 8],
        "labelExpr": "abs(datum.value - round(datum.value)) < 1e-6 ? '' + round(datum.value) : ''",
        "labelOverlap": false,
        "labelFlush": false,
        "tickSize": {"condition": {"test": "abs(datum.value - round(datum.value)) < 1e-6", "value": -9}, "value": -5},
        "labelPadding": 31,
        "title": "σₓ(MPa)",
        "titleFontSize": 31,
        "titleX": -73,
        "titleY": 436,
        "titleAngle": -90,
        "titleAlign": "center",
        "titleBaseline": "middle"
      }
    },
    "color": {
      "field": "s",
      "type": "nominal",
      "title": null,
      "scale": {
        "domain": ["Linear n=0 -h/2", "Linear n=0 +h/2", "Linear n=2 -h/2", "Linear n=2 +h/2", "Linear n=10 -h/2", "Linear n=10 +h/2", "NonLinear n=0 -h/2", "NonLinear n=0 +h/2", "NonLinear n=2 -h/2", "NonLinear n=2 +h/2", "NonLinear n=10 -h/2", "NonLinear n=10 +h/2"],
        "range": ["#5B9BD5", "#FFC000", "#70AD47", "#C00000", "#BF9000", "#7F7F7F", "#2F5597", "#FFC000", "#70AD47", "#C00000", "#BF9000", "#A5A5A5"]
      },
      "legend": {
        "orient": "none",
        "legendX": 78,
        "legendY": 678,
        "columns": 2,
        "columnPadding": 116,
        "rowPadding": 0,
        "clipHeight": 49,
        "padding": 0,
        "symbolType": "stroke",
        "symbolSize": 4900,
        "symbolStrokeWidth": 5,
        "labelFont": "Liberation Serif",
        "labelFontSize": 29,
        "labelFontWeight": "bold",
        "labelColor": "black",
        "labelLimit": 400,
        "labelOffset": 12
      }
    },
    "strokeDash": {
      "field": "s",
      "type": "nominal",
      "title": null,
      "scale": {
        "domain": ["Linear n=0 -h/2", "Linear n=0 +h/2", "Linear n=2 -h/2", "Linear n=2 +h/2", "Linear n=10 -h/2", "Linear n=10 +h/2", "NonLinear n=0 -h/2", "NonLinear n=0 +h/2", "NonLinear n=2 -h/2", "NonLinear n=2 +h/2", "NonLinear n=10 -h/2", "NonLinear n=10 +h/2"],
        "range": [[10, 5], [10, 5], [10, 5], [10, 5], [10, 5], [10, 5], [1, 0], [1, 0], [1, 0], [1, 0], [1, 0], [1, 0]]
      }
    },
    "detail": {"field": "p", "type": "nominal"}
  }
}
